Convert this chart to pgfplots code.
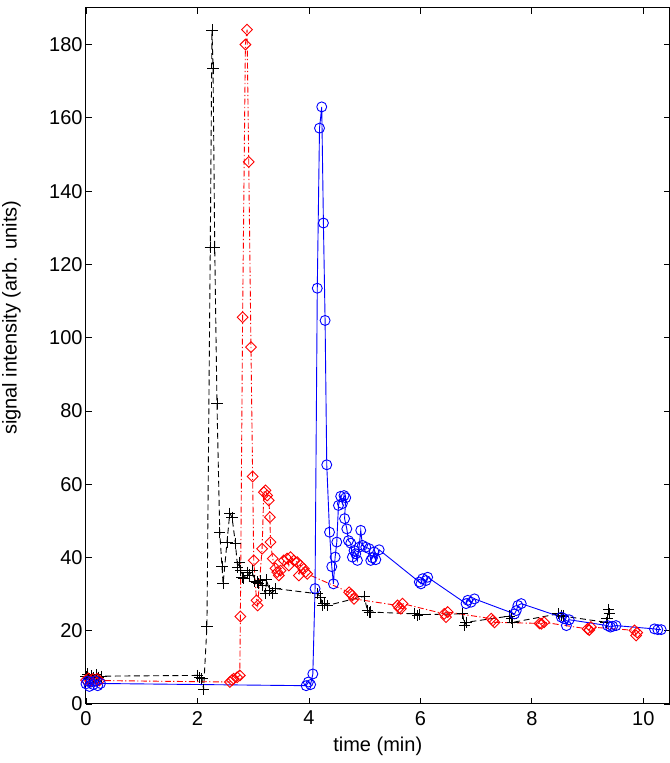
\documentclass[border=0pt]{standalone}
\usepackage{pgfplots}
\pgfplotsset{compat=1.18}
\usepackage{fontspec}
\setmainfont{Liberation Sans}
\begin{document}
\begin{tikzpicture}
\begin{axis}[
  width=291.75pt, height=348pt, scale only axis,
  xmin=0, xmax=10.47, ymin=0, ymax=190,
  xtick={0,2,...,10}, ytick={0,20,...,180},
  tick align=inside, major tick length=3pt,
  tick style={black, line width=0.4pt},
  axis line style={black, line width=0.5pt},
  /pgf/number format/assume math mode=true,
  ticklabel style={font=\fontsize{10}{12}\selectfont},
  yticklabel style={inner xsep=1.5pt},
  label style={font=\fontsize{10}{12}\selectfont},
  xlabel={time (min)},
  ylabel={signal intensity (arb. units)},
  xlabel style={at={(axis description cs:0.5,0)}, anchor=center, yshift=-21pt},
  ylabel style={at={(axis description cs:-0.0995,0.555)}, anchor=south, rotate=0},
  clip=true,
]
% black, dashed, plus
\addplot[black, line width=0.45pt, dash pattern=on 3pt off 1.8pt,
  mark=+, mark size=2.8pt, mark options={solid, line width=0.45pt}] coordinates {
(0.00,7.5)(0.03,8.2)(0.06,7.0)(0.10,7.8)(0.14,7.2)(0.18,8.0)(0.22,7.3)(0.27,7.6)
(2.00,7.8)(2.04,7.2)(2.08,7.0)(2.11,4.0)(2.17,21.2)(2.23,124.7)(2.26,184.0)(2.28,173.6)(2.31,124.5)(2.35,82.1)
(2.40,46.9)(2.44,37.5)(2.46,32.8)(2.53,44.2)(2.58,52.1)(2.62,51.0)(2.68,43.9)(2.72,37.4)(2.76,38.7)(2.77,36.4)
(2.80,34.6)(2.83,34.2)(2.89,36.0)(2.93,35.2)(2.98,36.4)(3.02,33.5)(3.07,33.3)(3.10,33.0)(3.13,33.7)(3.16,32.4)
(3.22,30.1)(3.24,33.9)(3.29,31.0)(3.34,30.3)(3.40,31.5)
(4.15,30.1)(4.21,29.2)(4.24,26.9)(4.27,27.5)(4.33,26.9)
(4.99,29.4)(5.05,25.5)(5.08,25.0)(5.11,25.1)
(5.90,24.6)(5.95,24.2)(5.98,24.4)
(6.76,24.6)(6.79,21.4)(6.82,22.3)
(7.60,24.0)(7.63,23.3)(7.66,22.3)
(8.47,24.6)(8.53,24.2)(8.56,24.0)
(9.33,22.3)(9.35,23.3)(9.38,25.8)(9.39,24.6)
};
% red, dash-dot, diamond
\addplot[red, line width=0.45pt, dash pattern=on 3pt off 1.2pt on 0.6pt off 1.2pt,
  mark=square, mark size=1.9pt, mark options={solid, rotate=45, line width=0.45pt}] coordinates {
(0.00,6.5)(0.04,7.0)(0.08,6.2)(0.12,6.8)(0.16,6.3)(0.20,6.9)(0.24,6.4)
(2.58,6.0)(2.62,6.5)(2.65,6.9)(2.71,7.3)(2.76,7.8)(2.77,23.9)(2.81,105.6)(2.86,180.0)(2.89,184.1)(2.92,148.0)
(2.96,97.4)(2.99,62.1)(3.01,39.2)(3.06,28.3)(3.08,26.9)(3.16,42.4)(3.19,57.8)(3.22,58.3)(3.25,56.9)(3.28,55.6)
(3.30,51.0)(3.31,44.2)(3.35,39.7)(3.40,37.0)(3.43,36.0)(3.46,35.1)(3.49,36.4)(3.55,39.2)(3.61,39.7)(3.64,37.8)
(3.67,40.1)(3.73,39.2)(3.79,38.7)(3.82,35.1)(3.85,37.8)(3.91,36.9)(3.94,36.0)(3.97,35.5)
(4.72,30.5)(4.75,30.0)(4.78,29.6)(4.81,28.7)
(5.59,26.9)(5.62,26.2)(5.65,26.0)(5.68,27.4)
(6.43,24.6)(6.46,23.7)(6.49,25.1)
(7.27,23.3)(7.30,22.8)(7.33,22.3)
(8.14,22.0)(8.17,21.9)(8.22,22.3)
(9.00,20.5)(9.03,20.2)(9.06,21.0)
(9.84,20.1)(9.87,18.7)(9.89,19.5)
};
% blue, solid, circle
\addplot[blue, line width=0.45pt,
  mark=o, mark size=2.5pt, mark options={solid, line width=0.45pt}] coordinates {
(0.00,5.5)(0.03,6.2)(0.06,4.8)(0.09,6.0)(0.13,5.3)(0.17,6.3)(0.21,5.0)(0.26,5.6)
(3.95,5.0)(3.99,6.0)(4.03,5.3)(4.07,8.2)(4.11,31.5)(4.15,113.5)(4.19,157.2)(4.23,163.0)(4.26,131.3)(4.29,104.7)
(4.32,65.3)(4.37,46.9)(4.41,37.5)(4.44,32.8)(4.47,40.1)(4.50,44.2)(4.53,54.2)(4.57,56.7)(4.60,54.7)(4.63,56.9)
(4.66,56.3)(4.64,50.6)(4.68,47.8)(4.71,44.6)(4.75,43.9)(4.78,40.1)(4.81,41.9)(4.84,41.0)(4.87,39.2)(4.90,42.8)
(4.93,47.4)(4.96,43.3)(5.02,42.8)(5.08,42.4)(5.11,39.2)(5.14,39.9)(5.17,41.5)(5.20,39.4)(5.26,42.1)
(5.98,33.3)(6.01,32.8)(6.04,34.2)(6.10,33.7)(6.13,34.6)
(6.82,27.4)(6.85,28.3)(6.91,27.8)(6.97,28.7)
(7.69,24.6)(7.72,25.5)(7.75,26.9)(7.81,27.4)
(8.53,23.7)(8.58,23.3)(8.62,21.4)(8.67,23.0)
(9.36,21.4)(9.41,21.0)(9.45,21.2)(9.51,21.4)
(10.20,20.5)(10.26,20.3)(10.32,20.3)
};
\end{axis}
\pgfresetboundingbox
\path[use as bounding box] (-43pt,-29.5pt) rectangle (291.75pt,352pt);
\end{tikzpicture}
\end{document}
